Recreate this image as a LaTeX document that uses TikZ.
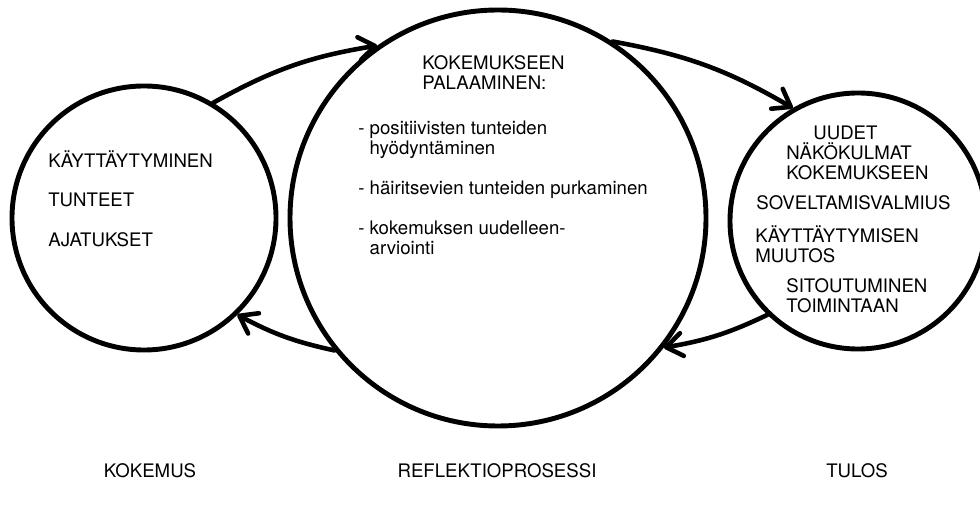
\documentclass[tikz,border=0pt]{standalone}
\usepackage{fontspec}
\setmainfont{TeX Gyre Heros}
\usepackage{tikz}
\usetikzlibrary{arrows.meta,positioning}

\begin{document}
\begin{tikzpicture}[
    ring/.style={circle, draw, line width=2.8pt, inner sep=0pt},
    flow/.style={line width=2.6pt, line cap=round,
      -{Straight Barb[length=3.2mm,width=4.6mm,round]}},
    lbl/.style={anchor=base west, inner sep=0pt, font=\fontsize{10.6}{12}\selectfont},
    caplbl/.style={anchor=base, inner sep=0pt, font=\fontsize{10.6}{12}\selectfont}
  ]
  \useasboundingbox (0,0) rectangle (19.6,-10.14);

  % Circles
  \node[ring, minimum size=5.28cm] (kokemus) at (2.88,-4.36) {};
  \node[ring, minimum size=8.32cm] (reflektio) at (9.96,-4.36) {};
  \node[ring, minimum size=5.12cm] (tulos) at (17.16,-4.42) {};

  % Experience
  \node[lbl] (kaytt) at (0.96,-3.36) {KÄYTTÄYTYMINEN};
  \node[lbl] (tunt) at (0.96,-4.14) {TUNTEET};
  \node[lbl] (ajat) at (0.96,-4.94) {AJATUKSET};

  % Reflection
  \node[lbl] (palaa1) at (8.44,-1.40) {KOKEMUKSEEN};
  \node[lbl] (palaa2) at (8.44,-1.80) {PALAAMINEN:};
  \node[lbl] (pos1) at (7.16,-2.70) {- positiivisten tunteiden};
  \node[lbl] (pos2) at (7.16,-3.10) {\phantom{- }hyödyntäminen};
  \node[lbl] (hair) at (7.16,-3.90) {- häiritsevien tunteiden purkaminen};
  \node[lbl] (arvi1) at (7.16,-4.70) {- kokemuksen uudelleen-};
  \node[lbl] (arvi2) at (7.16,-5.10) {\phantom{- }arviointi};

  % Outcome
  \node[lbl] (uud1) at (16.26,-2.80) {UUDET};
  \node[lbl] (uud2) at (15.72,-3.20) {NÄKÖKULMAT};
  \node[lbl] (uud3) at (15.72,-3.60) {KOKEMUKSEEN};
  \node[lbl] (sov) at (15.12,-4.20) {SOVELTAMISVALMIUS};
  \node[lbl] (muut1) at (15.10,-4.86) {KÄYTTÄYTYMISEN};
  \node[lbl] (muut2) at (15.10,-5.26) {MUUTOS};
  \node[lbl] (sito1) at (15.72,-5.86) {SITOUTUMINEN};
  \node[lbl] (sito2) at (15.72,-6.26) {TOIMINTAAN};

  % Captions
  \node[caplbl] (capk) at (3.00,-9.54) {KOKEMUS};
  \node[caplbl] (capr) at (9.94,-9.54) {REFLEKTIOPROSESSI};
  \node[caplbl] (capt) at (17.14,-9.54) {TULOS};

  % Arrows
  \draw[flow] (kokemus.59) to[bend left=10] (reflektio.125);
  \draw[flow] (reflektio.57) to[bend left=10] (tulos.120);
  \draw[flow] (tulos.226) to[bend left=8] (reflektio.-38);
  \draw[flow] (reflektio.219) to[bend left=8] (kokemus.-46);
\end{tikzpicture}
\end{document}
